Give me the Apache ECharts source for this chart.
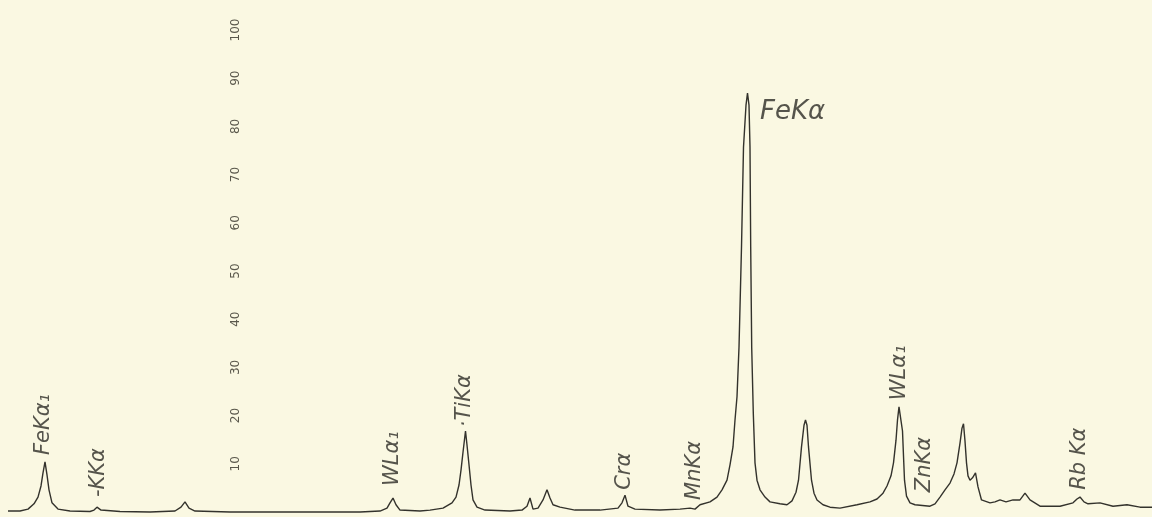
<!DOCTYPE html>
<html>
<head>
<meta charset="utf-8">
<script src="https://cdn.jsdelivr.net/npm/echarts@6/dist/echarts.min.js"></script>
<style>
html,body{margin:0;padding:0;background:#faf8e2;}
#c{width:1152px;height:517px;}
</style>
</head>
<body>
<div id="c"></div>
<script>
// Spectrum trace: channel position and relative intensity
const channel = [8,20,28,34,38,41,43,45,47,49,52,58,70,90,94,97,101,120,150,175,181,185,189,195,230,300,360,380,387,390,393,396,400,420,
  430,443,452,456,459,461,463,465.5,467,469,471,473,477,485,510,522,527,530,533,538,543,547,550,553,560,575,
  600,618,622,625,628,635,660,680,690,695,700,710,717,722,727,730,733,735,737,739,741.5,743.5,746,747.5,749,750,750.7,751.7,753.3,755,757,760,765,770,780,787,
  792,796,798.5,801.5,804,805.5,807,808.5,811.5,814,817,823,830,840,857,870,877,883,887,891,893.5,896,897.5,899,901,902.5,903.5,904.5,906.5,910,915,930,
  935,940,945,950,954,957,960,962,963.5,965,966.5,968,970,972.5,975.5,978,981.5,990,995,1000,1006,1013,1020,1025,1030,1040,1050,
  1060,1073,1077,1080,1084,1088,1100,1113,1127,1140,1152];
const intensity = [0.2,0.2,0.6,1.7,3.1,5.4,8.1,10.4,7.7,4.6,1.9,0.6,0.2,0.1,0.4,1.0,0.4,0.1,0,0.2,1.0,2.1,0.8,0.2,0,0,0,0.2,0.8,1.9,2.9,1.5,0.4,0.2,
  0.4,0.8,1.9,3.1,5.6,8.7,12.4,16.8,13.9,9.8,5.6,2.5,1.0,0.4,0.2,0.4,1.2,2.9,0.6,0.8,2.5,4.6,2.9,1.5,1.0,0.4,
  0.4,0.8,1.9,3.5,1.2,0.6,0.4,0.6,0.8,0.6,1.5,2.1,3.1,4.6,6.6,9.8,13.5,19.1,23.9,34.2,55.0,75.7,84.4,86.9,84.4,75.7,55.0,34.2,20.5,10.2,6.6,4.6,3.1,2.1,1.7,1.5,
  2.3,4.1,6.6,13.5,18.0,19.1,18.0,13.5,6.6,3.9,2.5,1.5,1.0,0.8,1.5,2.1,2.7,3.9,5.4,7.5,10.2,14.9,19.1,21.8,21.4,16.8,11.6,6.6,3.3,1.9,1.5,1.2,
  1.7,3.1,4.6,6.0,7.9,10.2,14.3,17.4,18.3,14.7,10.2,7.5,6.6,7.1,8.1,5.2,2.5,1.9,2.1,2.5,2.1,2.5,2.5,3.9,2.5,1.2,1.2,
  1.2,1.9,2.7,3.1,2.1,1.7,1.9,1.2,1.5,1.0,1.0];

// Peak annotations
const peakNames   = ['FeKα₁','-KKα','WLα₁','·TiKα','Crα','MnKα','WLα₁','ZnKα','Rb Kα'];
const peakChannel = [44,99,393,465,625,695,900,925,1080];
const peakLevel   = [11.8,3.1,5.4,17.6,4.6,2.5,23.2,4.1,4.6];
const mainPeakName = 'FeKα';
const mainPeakChannel = 760;
const mainPeakLevel = 83;

// Vertical scale tick values
const yMin = 0, yMax = 100, yStep = 10;

const trace = channel.map((c, i) => [c, intensity[i]]);
const peaks = peakNames.map((n, i) => ({ value: [peakChannel[i], peakLevel[i]], name: n }));

const textCol = '#2c2b25';
const chart = echarts.init(document.getElementById('c'), null, { renderer: 'canvas' });
chart.setOption({
  backgroundColor: '#faf8e2',
  animation: false,
  grid: [
    { left: 0, right: 0, top: 30, bottom: 5 },
    { left: 244, width: 10, top: 30, bottom: 5 }
  ],
  xAxis: [
    { type: 'value', gridIndex: 0, min: 0, max: 1152, show: false },
    { type: 'value', gridIndex: 1, min: 0, max: 1, show: false }
  ],
  yAxis: [
    { type: 'value', gridIndex: 0, min: yMin, max: yMax, interval: yStep, show: false },
    { type: 'value', gridIndex: 1, min: yMin, max: yMax, interval: yStep,
      axisLine: { show: false }, axisTick: { show: false }, splitLine: { show: false },
      axisLabel: { showMinLabel: false, rotate: 90, margin: 2, color: '#5a584c', fontSize: 12,
        fontFamily: 'DejaVu Sans' } }
  ],
  series: [
    { type: 'line', xAxisIndex: 0, yAxisIndex: 0, data: trace, showSymbol: false, smooth: false,
      clip: false, lineStyle: { color: '#33322c', width: 1.4 } },
    { type: 'scatter', xAxisIndex: 0, yAxisIndex: 0, data: peaks, symbolSize: 0,
      label: { show: true, position: 'inside', rotate: 90, align: 'left', verticalAlign: 'middle',
        formatter: p => p.name, color: textCol, fontSize: 21, fontStyle: 'italic',
        fontFamily: 'DejaVu Sans' } },
    { type: 'scatter', xAxisIndex: 0, yAxisIndex: 0,
      data: [{ value: [mainPeakChannel, mainPeakLevel], name: mainPeakName }], symbolSize: 0,
      label: { show: true, position: 'inside', align: 'left', verticalAlign: 'middle',
        formatter: p => p.name, color: textCol, fontSize: 26, fontStyle: 'italic',
        fontFamily: 'DejaVu Sans' } }
  ]
});
</script>
</body>
</html>
